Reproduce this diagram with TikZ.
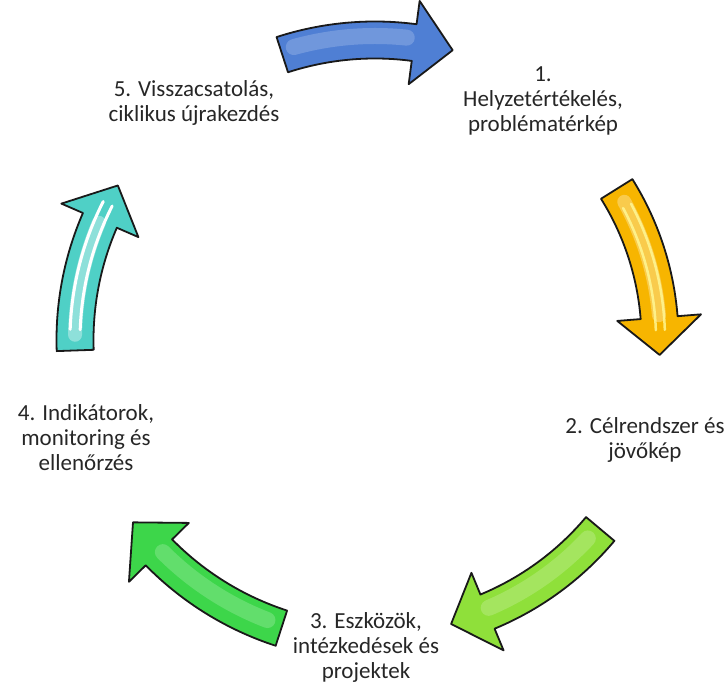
\documentclass[tikz,border=0pt]{standalone}
\usepackage{fontspec}
\setmainfont{Carlito}
\definecolor{cycblue}{HTML}{4F7FD4}
\definecolor{cycyellow}{HTML}{F7B500}
\definecolor{cyclime}{HTML}{8FE03A}
\definecolor{cycgreen}{HTML}{3DD64A}
\definecolor{cyccyan}{HTML}{4FD0C6}

\begin{document}
\begin{tikzpicture}[x=1pt,y=1pt,
  stage/.style={align=center,inner sep=0pt,text=black!85,font=\fontsize{23}{25}\selectfont},
  arrow body/.style={draw=black!90,line width=1.8pt,line join=round}]
  \useasboundingbox (0,0) rectangle (728,687);

  % stage labels
  \node[stage] (1) at (543,586) {1.\\Helyzetértékelés,\\problématérkép};
  \node[stage] (2) at (645,247) {2. Célrendszer és\\jövőkép};
  \node[stage] (3) at (366,40) {3. Eszközök,\\intézkedések és\\projektek};
  \node[stage] (4) at (86,249) {4. Indikátorok,\\monitoring és\\ellenőrzés};
  \node[stage] (5) at (194,584) {5. Visszacsatolás,\\ciklikus újrakezdés};

  % curved arrows round the centre of the cycle
  \begin{scope}[shift={(375,347)}]
    \filldraw[arrow body,fill=cycblue] (108:318.5) arc[start angle=108,end angle=82.5,radius=318.5]
      -- (82.5:342) -- (75:300) -- (82.5:258) -- (82.5:281.5) arc[start angle=82.5,end angle=108,radius=281.5] -- cycle;
    \draw[cycblue!45!white,line width=16pt,opacity=.35,line cap=round] (105.5:304) arc[start angle=105.5,end angle=84,radius=304];

    \filldraw[arrow body,fill=cycyellow] (32:303.5) arc[start angle=32,end angle=4.5,radius=303.5]
      -- (4.5:327) -- (-3:285) -- (4.5:243) -- (4.5:266.5) arc[start angle=4.5,end angle=32,radius=266.5] -- cycle;
    \draw[cycyellow!40!white,line width=14pt,opacity=.5,line cap=round] (29:285) arc[start angle=29,end angle=5,radius=285];
    \draw[yellow!40!white,line width=2.5pt,line cap=round,opacity=.8] (28:281) arc[start angle=28,end angle=2,radius=281];
    \draw[yellow!40!white,line width=2.5pt,line cap=round,opacity=.8] (28:290) arc[start angle=28,end angle=2,radius=290];

    \filldraw[arrow body,fill=cyclime] (-40:312.5) arc[start angle=-40,end angle=-67.5,radius=312.5]
      -- (-67.5:336) -- (-75:294) -- (-67.5:252) -- (-67.5:275.5) arc[start angle=-67.5,end angle=-40,radius=275.5] -- cycle;
    \draw[cyclime!45!white,line width=16pt,opacity=.35,line cap=round] (-43:291) arc[start angle=-43,end angle=-67,radius=291];

    \filldraw[arrow body,fill=cycgreen] (-108:321.5) arc[start angle=-108,end angle=-135.5,radius=321.5]
      -- (-135.5:345) -- (-143:303) -- (-135.5:261) -- (-135.5:284.5) arc[start angle=-135.5,end angle=-108,radius=284.5] -- cycle;
    \draw[cycgreen!45!white,line width=16pt,opacity=.35,line cap=round] (-111:300) arc[start angle=-111,end angle=-135,radius=300];

    \filldraw[arrow body,fill=cyccyan] (182:318.5) arc[start angle=182,end angle=156.5,radius=318.5]
      -- (156.5:342) -- (149:300) -- (156.5:258) -- (156.5:281.5) arc[start angle=156.5,end angle=182,radius=281.5] -- cycle;
    \draw[cyccyan!40!white,line width=14pt,opacity=.6,line cap=round] (179:300) arc[start angle=179,end angle=157,radius=300];
    \draw[white,line width=3pt,line cap=round] (178:295) arc[start angle=178,end angle=153,radius=295];
    \draw[white,line width=3pt,line cap=round] (178:305) arc[start angle=178,end angle=153,radius=305];
  \end{scope}
\end{tikzpicture}
\end{document}
